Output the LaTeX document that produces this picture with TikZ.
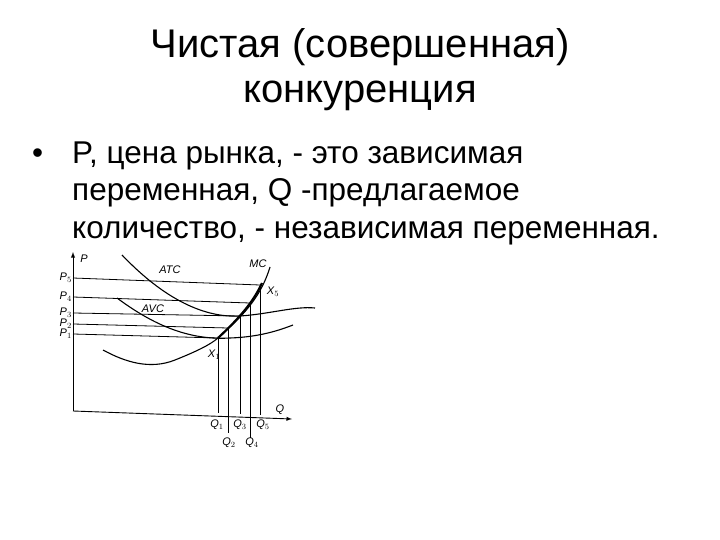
\documentclass[tikz,border=0pt]{standalone}
\usepackage{fontspec}
\setmainfont{Liberation Sans}
\begin{document}
\begin{tikzpicture}[x=1pt,y=-1pt,
  ax/.style={line width=0.9pt},
  lvl/.style={line width=0.8pt},
  crv/.style={line width=1.1pt},
  body/.style={anchor=base west,inner sep=0pt,font=\fontsize{31.5}{34}\selectfont},
  lab/.style={font=\itshape\fontsize{11}{12}\selectfont,inner sep=1pt}]
\useasboundingbox (0,0) rectangle (720,540);
\node (t1) at (360,47) {\fontsize{40}{44}\selectfont Чистая (совершенная)};
\node (t2) at (360,96) {\fontsize{40}{44}\selectfont конкуренция};
\node[body] (b) at (32,164) {•};
\node[body] (l1) at (72,164) {P, цена рынка, - это зависимая};
\node[body] (l2) at (72,201) {переменная, Q -предлагаемое};
\node[body] (l3) at (72,239) {количество, - независимая переменная.};
% axes
\coordinate (O) at (73,411);
\coordinate (Ytop) at (73,252);
\coordinate (Xend) at (292,419);
\draw[ax,-latex] (O) -- (Ytop);
\draw[ax,-latex] (O) -- (Xend);
\node[lab] (pl) at (84,259) {P};
\node[lab] (ql) at (280,410) {Q};
\coordinate (m1) at (218,338);
\coordinate (m2) at (228,328);
\coordinate (m3) at (240,316);
\coordinate (m4) at (250,303);
\coordinate (m5) at (260,285);
\coordinate (a1) at (73,334);
\coordinate (a2) at (73,324);
\coordinate (a3) at (73,313);
\coordinate (a4) at (73,297);
\coordinate (a5) at (73,278);
\foreach \i in {1,...,5}{\draw[lvl] (a\i) -- (m\i);}
\node[lab,anchor=east] at (a1) {P$_1$};
\node[lab,anchor=east] at (a2) {P$_2$};
\node[lab,anchor=east] at (a3) {P$_3$};
\node[lab,anchor=east] at (a4) {P$_4$};
\node[lab,anchor=east] at (a5) {P$_5$};
\coordinate (q1) at (218,413);
\coordinate (q2) at (228,433);
\coordinate (q3) at (240,414);
\coordinate (q4) at (250,438);
\coordinate (q5) at (260,415);
\foreach \i in {1,...,5}{\draw[line width=0.6pt] (m\i) -- (q\i);}
\node[lab] at (217,425) {Q$_1$};
\node[lab] at (229,443) {Q$_2$};
\node[lab] at (240,425) {Q$_3$};
\node[lab] at (252,443) {Q$_4$};
\node[lab] at (263,425) {Q$_5$};
\draw[crv] (122,255) .. controls (165,300) and (205,318) .. (240,316) .. controls (270,314) and (295,306) .. (315,308);
\draw[crv] (117,298) .. controls (160,330) and (195,340) .. (230,338) .. controls (260,337) and (280,330) .. (293,325);
\draw[crv] (103,350) .. controls (125,362) and (150,370) .. (175,360) .. controls (195,352) and (210,345) .. (218,338) .. controls (240,318) and (260,300) .. (270,267);
\draw[line width=2.2pt] (218,338) .. controls (235,322) and (252,305) .. (262,283);
\node[lab] at (170,270) {ATC};
\node[lab] at (153,309) {AVC};
\node[lab] at (258,264) {MC};
\node[lab] at (273,292) {X$_5$};
\node[lab] at (214,355) {X$_1$};
\end{tikzpicture}
\end{document}
